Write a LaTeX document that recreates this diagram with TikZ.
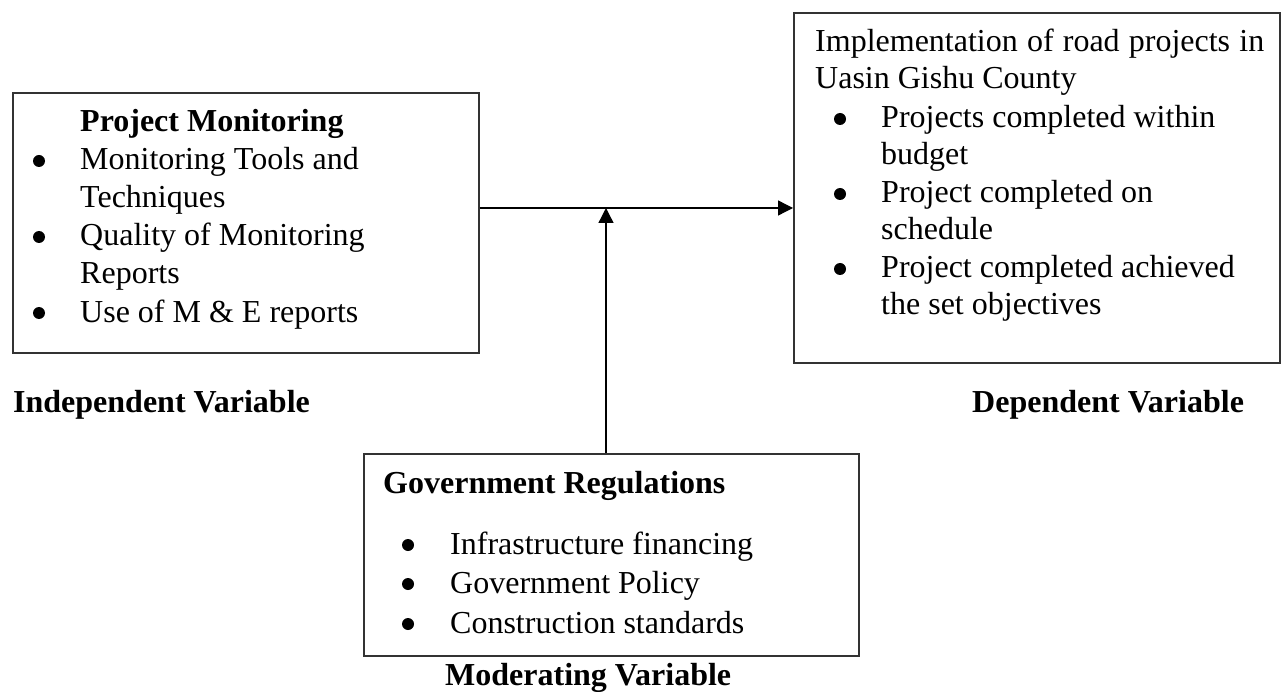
\documentclass[tikz,border=0pt]{standalone}
\usepackage{fontspec}
\setmainfont{Liberation Serif}
\usetikzlibrary{arrows.meta}
\begin{document}
\begin{tikzpicture}[x=1pt,y=-1pt,
  frame/.style={draw=black!80, line width=1.6pt, inner sep=0pt, anchor=north west},
  txt/.style={anchor=base west, inner sep=0pt, font=\fontsize{32}{38}\selectfont},
  bold/.style={anchor=base west, inner sep=0pt, font=\fontsize{32}{38}\selectfont\bfseries},
  bul/.style={circle, fill=black, inner sep=0pt, minimum size=12pt},
  link/.style={line width=1.3pt, -{Triangle[length=15pt,width=15pt]}}]
\useasboundingbox (0,0) rectangle (1281,692);

% boxes
\node[frame, minimum width=466pt, minimum height=260pt] (iv) at (12,92) {};
\node[frame, minimum width=486pt, minimum height=350pt] (dv) at (793,12) {};
\node[frame, minimum width=495pt, minimum height=202pt] (mv) at (363,453) {};

% independent variable
\node[bold] (ivt) at (80,132) {Project Monitoring};
\node[bul] (ivb1) at (39,161) {};
\node[txt] (iv1a) at (80,170) {Monitoring Tools and};
\node[txt] (iv1b) at (80,208) {Techniques};
\node[bul] (ivb2) at (39,237) {};
\node[txt] (iv2a) at (80,246) {Quality of Monitoring};
\node[txt] (iv2b) at (80,284) {Reports};
\node[bul] (ivb3) at (39,313) {};
\node[txt] (iv3) at (80,322) {Use of M \& E reports};

% dependent variable
\node[txt] (dvt1) at (815,52) {\makebox[449pt][s]{Implementation of road projects in}};
\node[txt] (dvt2) at (815,89) {Uasin Gishu County};
\node[bul] (dvb1) at (840,119) {};
\node[txt] (dv1a) at (881,128) {Projects completed within};
\node[txt] (dv1b) at (881,165) {budget};
\node[bul] (dvb2) at (840,194) {};
\node[txt] (dv2a) at (881,203) {Project completed on};
\node[txt] (dv2b) at (881,240) {schedule};
\node[bul] (dvb3) at (840,269) {};
\node[txt] (dv3a) at (881,278) {Project completed achieved};
\node[txt] (dv3b) at (881,315) {the set objectives};

% moderating variable
\node[bold] (mvt) at (383,493) {Government Regulations};
\node[bul] (mvb1) at (408,545) {};
\node[txt] (mv1) at (450,554) {Infrastructure financing};
\node[bul] (mvb2) at (408,584) {};
\node[txt] (mv2) at (450,593) {Government Policy};
\node[bul] (mvb3) at (408,624) {};
\node[txt] (mv3) at (450,633) {Construction standards};

% captions
\node[bold] (ivl) at (13,412) {Independent Variable};
\node[bold] (dvl) at (972,412) {Dependent Variable};
\node[bold] (mvl) at (445,685) {Moderating Variable};

% connectors
\coordinate (j) at (606,208);
\draw[link] (iv.east |- j) -- (dv.west |- j);
\draw[link] (j |- mv.north) -- (j);
\end{tikzpicture}
\end{document}
